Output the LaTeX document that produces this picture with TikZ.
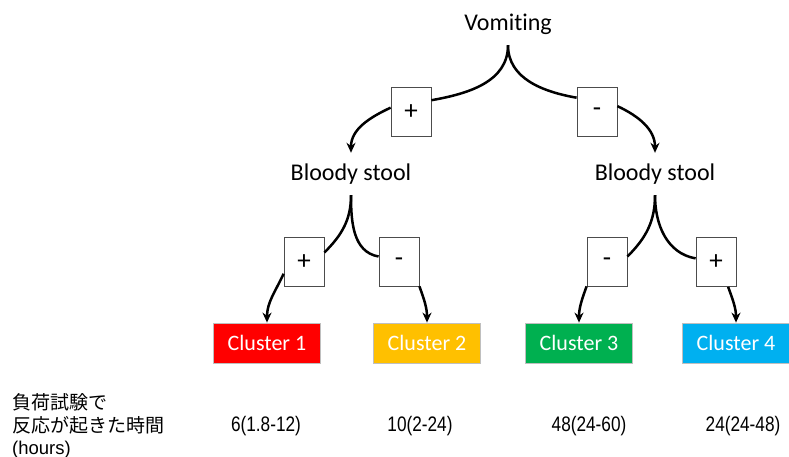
\documentclass[tikz,border=0pt]{standalone}
\usepackage{fontspec}
\setmainfont[Ligatures={NoCommon,NoContextual}]{Carlito}
\newfontfamily\jpfont{Noto Sans CJK JP}
\newfontfamily\numfont[FakeStretch=0.82]{Liberation Sans}
\newfontfamily\hrsfont{Liberation Sans}
\usepackage{tikz}
\usetikzlibrary{arrows.meta}
\definecolor{clred}{HTML}{FF0000}
\definecolor{clyellow}{HTML}{FFC000}
\definecolor{clgreen}{HTML}{00B050}
\definecolor{clblue}{HTML}{00B0F0}

\begin{document}
\begin{tikzpicture}[x=1pt, y=1pt,
  symptom/.style={inner sep=0pt, minimum height=42pt, font=\fontsize{24}{28}\selectfont},
  signbox/.style={draw=black!70, fill=white, line width=0.8pt, minimum width=40pt, minimum height=49pt, inner sep=0pt, font=\fontsize{27}{30}\selectfont},
  cluster/.style={draw=black!25, line width=0.8pt, minimum width=107pt, minimum height=40pt, inner sep=0pt, text=white, font=\fontsize{22}{26}\selectfont},
  timeval/.style={inner sep=0pt, font=\numfont\fontsize{21}{24}\selectfont},
  branch/.style={line width=2.5pt},
  >={Stealth[length=10pt, width=9pt]}
]
  \useasboundingbox (0,0) rectangle (789,-457);

  % Symptoms
  \node[symptom] (vom) at (508,-24)  {Vomiting};
  \node[symptom] (bs1) at (351,-174) {Bloody stool};
  \node[symptom] (bs2) at (655,-174) {Bloody stool};

  % Sign boxes: first split on vomiting, then on bloody stool
  \node[signbox] (pa) at (411,-112) {+};
  \node[signbox] (ma) at (597,-112) {-};
  \node[signbox] (p1) at (304,-262) {+};
  \node[signbox] (m1) at (399,-262) {-};
  \node[signbox] (m2) at (607,-262) {-};
  \node[signbox] (p2) at (716,-262) {+};

  % Clusters
  \node[cluster, fill=clred]    (cl1) at (267,-343) {Cluster 1};
  \node[cluster, fill=clyellow] (cl2) at (427,-343) {Cluster 2};
  \node[cluster, fill=clgreen]  (cl3) at (579,-343) {Cluster 3};
  \node[cluster, fill=clblue]   (cl4) at (736,-343) {Cluster 4};

  % Vomiting -> bloody stool
  \draw[branch] (vom.south) to[out=-90, in=10] (pa.30);
  \draw[branch] (vom.south) to[out=-90, in=170] (ma.145);
  \draw[branch, ->] (pa.168) to[out=205, in=90] (bs1.north);
  \draw[branch, ->] (ma.16) to[out=-25, in=90] (bs2.north);

  % Bloody stool (left) -> clusters 1, 2
  \draw[branch] (bs1.south) to[out=-90, in=45] (p1.25);
  \draw[branch] (bs1.south) to[out=-90, in=170] (m1.165);
  \draw[branch, ->] (p1.210) to[out=-115, in=90] (cl1.north);
  \draw[branch, ->] (m1.-50) to[out=-70, in=90] (cl2.north);

  % Bloody stool (right) -> clusters 3, 4
  \draw[branch] (bs2.south) to[out=-90, in=45] (m2.15);
  \draw[branch] (bs2.south) to[out=-90, in=170] (p2.170);
  \draw[branch, ->] (m2.230) to[out=-110, in=90] (cl3.north);
  \draw[branch, ->] (p2.-64) to[out=-70, in=90] (cl4.north);

  % Reaction times
  \node[anchor=west, align=left, inner sep=0pt, font=\jpfont\fontsize{19}{22.5}\selectfont] (label) at (12,-426)
    {負荷試験で\\反応が起きた時間\\{\hrsfont\fontsize{18.5}{22.5}\selectfont (hours)}};
  \node[timeval] (t1) at (266,-426) {6(1.8-12)};
  \node[timeval] (t2) at (420,-426) {10(2-24)};
  \node[timeval] (t3) at (589,-426) {48(24-60)};
  \node[timeval] (t4) at (743,-426) {24(24-48)};
\end{tikzpicture}
\end{document}
